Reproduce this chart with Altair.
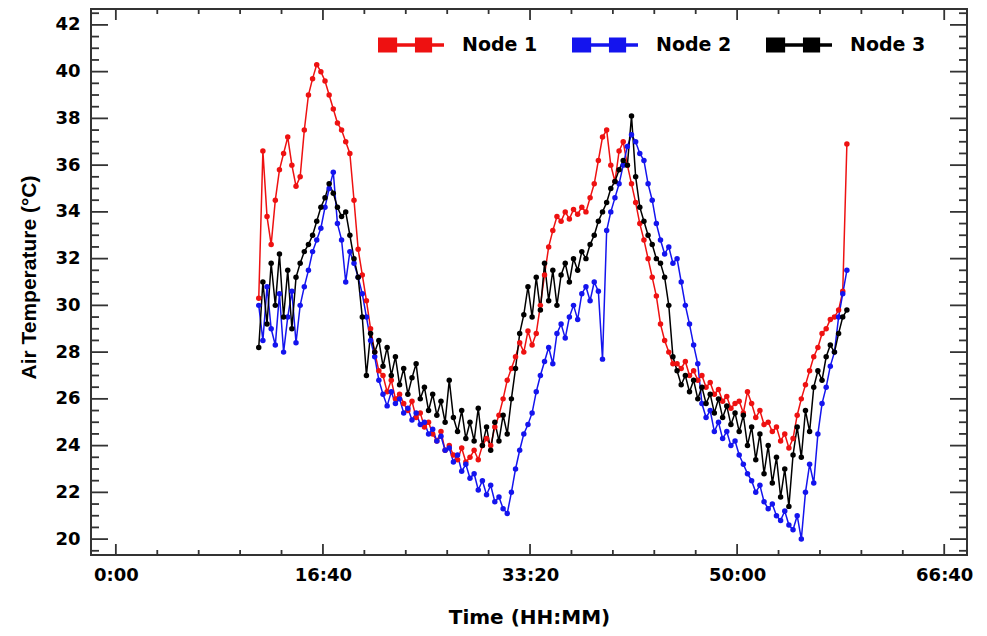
import altair as alt
import pandas as pd

# ---------------- data (time in minutes, temperature in degC) ----------------
t_start = 690
t_step = 20

node1 = [
    30.3, 36.6, 33.8, 32.6, 34.5, 35.8, 36.5, 37.2, 36.0, 35.1,
    35.5, 37.5, 39.0, 39.7, 40.3, 40.0, 39.6, 39.0, 38.4, 37.8,
    37.5, 37.0, 36.5, 34.5, 32.4, 31.3, 30.2, 29.0, 28.0, 27.2,
    27.0, 26.3, 26.8, 26.0, 26.2, 25.8, 25.5, 25.9, 25.2, 25.4,
    24.8, 25.0, 24.5, 24.2, 24.6, 23.8, 24.0, 23.6, 23.4, 23.9,
    23.3, 23.5, 23.8, 23.4, 24.0, 24.3, 24.0, 24.8, 25.3, 26.0,
    26.8, 27.3, 27.8, 28.4, 28.0, 28.9, 28.3, 28.8, 30.0, 31.3,
    32.5, 33.2, 33.8, 33.6, 34.0, 33.7, 34.1, 33.9, 34.2, 34.0,
    34.6, 35.2, 36.2, 37.2, 37.5, 36.0, 35.3, 36.6, 37.0, 36.0,
    35.2, 34.4, 33.5, 32.8, 32.0, 31.2, 30.4, 29.2, 28.5, 28.0,
    27.5, 27.5, 27.3, 27.6, 27.0, 27.2, 26.8, 27.0, 26.5, 26.7,
    26.2, 26.4, 25.9, 26.1, 25.6, 25.8, 25.9, 25.4, 26.3, 25.8,
    25.2, 25.5, 24.9, 25.0, 24.6, 24.8, 24.2, 24.5, 23.9, 24.3,
    25.3, 26.0, 26.6, 27.2, 27.8, 28.2, 28.8, 29.0, 29.4, 29.5,
    29.8, 30.6, 36.9,
]

node2 = [
    30.0, 28.5, 30.8, 29.0, 28.3, 30.5, 28.0, 29.5, 30.6, 28.4,
    30.0, 30.8, 31.5, 32.3, 32.8, 33.3, 34.2, 35.0, 35.7, 33.5,
    32.8, 31.0, 32.3, 31.8, 31.2, 30.5, 29.5, 28.5, 27.8, 26.8,
    26.2, 25.7, 26.3, 25.8, 26.0, 25.4, 25.6, 25.1, 25.4, 24.9,
    25.0, 24.5, 24.7, 24.2, 24.4, 23.8, 23.9, 23.3, 23.6, 22.9,
    23.2, 22.6, 22.8, 22.1, 22.5, 21.9, 22.3, 21.6, 21.8, 21.3,
    21.1, 22.0, 23.0, 23.8, 24.5, 24.9, 25.4, 26.3, 27.0, 27.6,
    28.2, 27.5, 28.8, 29.2, 28.6, 29.5, 30.0, 29.4, 30.5, 30.8,
    30.2, 31.0, 30.6, 27.7, 33.2, 34.0, 34.6, 35.2, 36.0, 36.8,
    37.3, 37.0, 36.5, 36.2, 35.2, 34.5, 33.5, 32.8, 32.2, 32.5,
    31.8, 32.0, 31.0, 30.0, 29.2, 28.3, 27.5, 25.8, 25.2, 25.5,
    24.6, 25.0, 24.3, 24.6, 24.0, 24.2, 23.6, 23.2, 22.8, 22.5,
    22.0, 22.3, 21.6, 21.3, 21.5, 21.0, 20.8, 21.2, 20.6, 20.4,
    21.0, 20.0, 22.0, 23.2, 22.4, 24.5, 25.8, 26.5, 27.4, 28.0,
    29.5, 30.5, 31.5,
]

node3 = [
    28.2, 31.0, 29.2, 31.8, 30.0, 32.2, 29.5, 31.5, 29.0, 31.2,
    31.8, 32.3, 32.6, 33.0, 33.6, 34.2, 34.6, 35.2, 34.8, 34.2,
    33.8, 34.0, 33.0, 32.0, 31.2, 29.5, 27.0, 28.8, 28.0, 28.5,
    27.4, 28.2, 27.0, 27.8, 26.6, 27.3, 26.2, 26.9, 27.5, 26.0,
    26.5, 25.5, 26.2, 25.3, 25.9, 25.0, 26.8, 25.2, 24.6, 25.5,
    24.3, 25.0, 24.2, 25.6, 24.0, 24.8, 23.8, 25.0, 24.2, 25.3,
    24.5, 26.0, 27.3, 28.8, 29.6, 30.8, 29.5, 31.2, 29.8, 31.8,
    30.2, 31.5, 30.0, 31.3, 31.8, 31.0, 32.0, 31.5, 32.3, 32.0,
    32.6, 33.0, 33.6, 34.0, 34.4, 35.0, 35.3, 35.8, 36.2, 36.0,
    38.1, 35.5, 34.2, 33.6, 33.0, 32.6, 32.0, 31.8, 31.2, 30.0,
    27.8, 27.2, 26.6, 27.0, 26.3, 26.8, 26.0, 26.5, 25.8, 26.2,
    25.4, 26.0, 25.2, 25.7, 24.9, 25.4, 24.6, 25.3, 24.0, 24.8,
    23.4, 24.5, 22.8, 24.0, 22.4, 23.5, 21.8, 23.0, 21.4, 23.6,
    24.8, 23.5, 25.5, 24.6, 26.5, 27.2, 26.8, 27.8, 28.3, 28.0,
    28.8, 29.5, 29.8,
]

nodes = ["Node 1", "Node 2", "Node 3"]
colors = ["#ee1111", "#1414ee", "#000000"]

x_major = [0, 1000, 2000, 3000, 4000]
x_minor = [200, 400, 600, 800, 1200, 1400, 1600, 1800, 2200, 2400, 2600,
           2800, 3200, 3400, 3600, 3800]
y_major = [20, 22, 24, 26, 28, 30, 32, 34, 36, 38, 40, 42]
y_minor = [v / 2 for v in range(39, 86) if v % 4 != 0]

x_domain = [-120, 4110]
y_domain = [19.32, 42.68]

W, H = 876, 546

# ---------------- build table ----------------
rows = []
for name, series in zip(nodes, [node1, node2, node3]):
    for i, v in enumerate(series):
        rows.append({"t": t_start + t_step * i, "temp": v, "node": name})
df = pd.DataFrame(rows)

xscale = alt.Scale(domain=x_domain, nice=False, zero=False)
yscale = alt.Scale(domain=y_domain, nice=False, zero=False)
cscale = alt.Scale(domain=nodes, range=colors)

label_expr = ("floor(datum.value/60) + ':' + "
              "((datum.value % 60) < 10 ? '0' : '') + (datum.value % 60)")

x_axis = alt.Axis(
    values=x_major, labelExpr=label_expr, title="Time (HH:MM)",
    titleFont="DejaVu Sans", titleFontSize=20, titleFontWeight="bold",
    titleColor="black", titleY=52,
    labelFont="DejaVu Sans", labelFontSize=18, labelFontWeight="bold",
    labelColor="black", labelPadding=11, labelFlush=False,
    ticks=False, domain=False, grid=False,
)
y_axis = alt.Axis(
    values=y_major, title="Air Temperature (°C)",
    titleFont="Liberation Sans", titleFontSize=21, titleFontWeight="bold",
    titleColor="black", titleX=-52, titleY=268,
    labelFont="DejaVu Sans", labelFontSize=18, labelFontWeight="bold",
    labelColor="black", labelPadding=11,
    ticks=False, domain=False, grid=False,
)

X = alt.X("t:Q", scale=xscale, axis=x_axis)
Y = alt.Y("temp:Q", scale=yscale, axis=y_axis)

legend_path = ("M-1,-0.23H-0.42V0.23H-1Z M-0.42,-0.05H0.12V0.05H-0.42Z "
               "M0.12,-0.23H0.64V0.23H0.12Z M0.64,-0.05H1V0.05H0.64Z")

line_layers = [
    alt.Chart(df).transform_filter(alt.datum.node == name)
    .mark_line(strokeWidth=1.5, color=col).encode(x=X, y=Y)
    for name, col in zip(nodes, colors)
]

points = alt.Chart(df).mark_point(filled=True, size=30, opacity=1).encode(
    x=X, y=Y,
    color=alt.Color("node:N", scale=cscale, legend=alt.Legend(
        title=None, orient="none", legendX=287, legendY=3,
        direction="horizontal", symbolType=legend_path, symbolSize=4356,
        symbolStrokeWidth=0, symbolOpacity=1,
        labelFont="DejaVu Sans", labelFontSize=19, labelFontWeight="bold",
        labelColor="black", labelOffset=18, columnPadding=34, padding=0,
    )),
)

tick_color = "#333333"


def xticks(vals, y1, y2):
    return alt.Chart(pd.DataFrame({"t": vals})).mark_rule(
        color=tick_color, strokeWidth=1.8
    ).encode(x=X, y=alt.value(y1), y2=alt.value(y2))


def yticks(vals, x1, x2):
    return alt.Chart(pd.DataFrame({"temp": vals})).mark_rule(
        color=tick_color, strokeWidth=1.8
    ).encode(y=Y, x=alt.value(x1), x2=alt.value(x2))


ticks = [
    xticks(x_major, H, H - 11), xticks(x_minor, H, H - 5),
    xticks(x_major, 0, 11), xticks(x_minor, 0, 5),
    yticks(y_major, 0, 17), yticks(y_minor, 0, 8),
    yticks(y_major, W, W - 17), yticks(y_minor, W, W - 8),
]

chart = alt.layer(*line_layers, points, *ticks).properties(
    width=W, height=H,
    background="white",
    autosize=alt.AutoSizeParams(type="none"),
    padding={"left": 83, "top": 1, "right": 12, "bottom": 80},
).configure_view(
    stroke="#333333", strokeWidth=2
)

chart.save("out.html", embed_options={"renderer": "svg", "actions": False})
